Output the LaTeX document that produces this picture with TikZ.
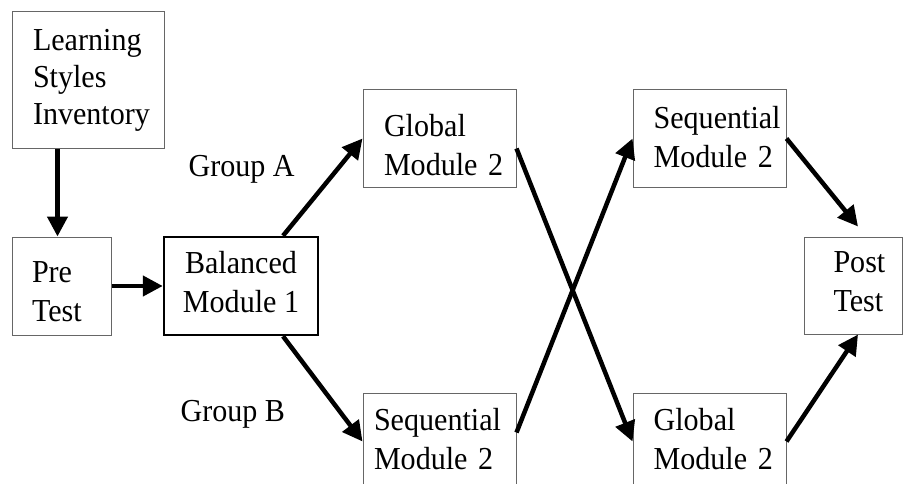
\documentclass[tikz,border=0pt]{standalone}
\usepackage{fontspec}
\setmainfont{Liberation Serif}[FakeStretch=0.94]
\usetikzlibrary{arrows.meta}
\newcommand\tallline[1]{\rule{0pt}{#1}}
\newcommand\deepline[1]{\rule[-#1]{0pt}{#1}}

\begin{document}
\begin{tikzpicture}[x=1pt,y=-1pt,
  every node/.style={font=\fontsize{32}{39}\selectfont},
  box/.style={draw=black!60,line width=1pt,inner sep=0pt,align=left,minimum width=153pt,minimum height=97pt},
  flow/.style={-{Triangle[length=20pt,width=20pt]},line width=4.5pt}]
  \useasboundingbox (0,0) rectangle (904,484);
  \clip (0,0) rectangle (904,484);
  % boxes
  \node[box,minimum width=152pt,minimum height=136pt,text width=110pt,font=\fontsize{32}{37}\selectfont] (lsi) at (88,80) {Learning\\Styles\\Inventory};
  \node[box,minimum width=99pt,minimum height=98pt,text width=59pt] (pre) at (61.5,286) {\tallline{33pt}Pre\\Test};
  \node[box,draw=black,line width=2.5pt,minimum width=154pt,minimum height=98pt,align=center] (bal) at (241,286) {Balanced\\Module~1\deepline{8.9pt}};
  \node[box,text width=111pt] (globA) at (439.5,138.5) {\tallline{36pt}Global\\Module~2};
  \node[box,text width=131pt] (seqB) at (439.5,441.5) {Sequential\\Module~2\deepline{5.9pt}};
  \node[box,text width=111.8pt] (seqA) at (709.5,138.5) {Sequential\\Module~2\deepline{3.9pt}};
  \node[box,text width=111.8pt] (globB) at (709.5,441.5) {Global\\Module~2\deepline{5.9pt}};
  \node[box,minimum width=98pt,text width=39pt] (post) at (853,285.5) {Post\\Test\deepline{7.9pt}};
  \node[anchor=base west] (grpA) at (185,176) {Group A};
  \node[anchor=base west] (grpB) at (177,421) {Group B};
  % arrows
  \draw[flow] ([xshift=-4pt]pre.north |- lsi.south) -- ([xshift=-4pt]pre.north);
  \draw[flow] (pre) -- (bal);
  \draw[flow] ([xshift=42pt]bal.north) -- (globA.west);
  \draw[flow] ([xshift=42pt]bal.south) -- (seqB.west);
  \draw[flow] ([yshift=-10pt]globA.east) -- (globB.west);
  \draw[flow] ([yshift=9pt]seqB.east) -- (seqA.west);
  \draw[flow] (seqA.east) -- ([xshift=5pt,yshift=10pt]post.north);
  \draw[flow] (globB.east) -- ([xshift=5pt]post.south);
\end{tikzpicture}
\end{document}
